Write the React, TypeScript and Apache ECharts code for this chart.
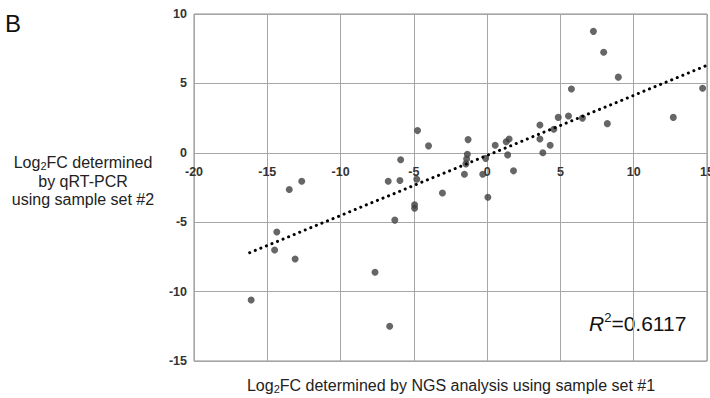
import React, { useEffect, useRef } from "react";
import * as echarts from "echarts";

const ngsLog2FC = [
  -16.1, -14.5, -14.35, -13.1, -13.5, -12.65, -7.65, -6.65, -6.3, -6.75, -5.95, -5.9,
  -4.8, -4.75, -4.95, -4.95, -4.0, -3.05, -1.3, -1.35, -1.4, -1.45, -1.55, -0.1,
  -0.3, 0.05, 0.55, 1.3, 1.5, 1.4, 1.8, 3.6, 3.6, 3.8, 4.3, 4.55, 4.85, 5.55,
  6.5, 5.75, 7.25, 7.95, 8.95, 8.2, 12.7, 14.7,
];
const qpcrLog2FC = [
  -10.6, -7.0, -5.7, -7.65, -2.65, -2.05, -8.6, -12.5, -4.85, -2.05, -2.0, -0.5,
  -1.9, 1.6, -3.75, -4.0, 0.5, -2.9, 0.95, -0.1, -0.45, -0.8, -1.55, -0.4,
  -1.55, -3.2, 0.55, 0.8, 1.0, -0.15, -1.3, 2.0, 1.0, 0.0, 0.55, 1.7, 2.55, 2.65,
  2.5, 4.6, 8.75, 7.25, 5.45, 2.1, 2.55, 4.65,
];
const trendX = [-16.2, 15];
const trendY = [-7.2, 6.3];
const xTicks = { min: -20, max: 15, interval: 5 };
const yTicks = { min: -15, max: 10, interval: 5 };
const r2Label = "0.6117";

const GRID = { left: 194, right: 3, top: 14, bottom: 37 };
const H = 398;

export default function App() {
  const ref = useRef<HTMLDivElement>(null);
  useEffect(() => {
    if (!ref.current) return;
    const chart = echarts.init(ref.current, null, { renderer: "svg" });
    const font = "'Liberation Sans', Arial, sans-serif";
    const gridColor = "#a6a6a6";
    const labelStyle = {
      fontFamily: font,
      fontWeight: "bold" as const,
      fontSize: 12.5,
      color: "#333333",
    };
    const plotH = H - GRID.top - GRID.bottom;
    const zeroOffset =
      -(plotH * (0 - yTicks.min)) / (yTicks.max - yTicks.min);
    chart.setOption({
      animation: false,
      backgroundColor: "#ffffff",
      grid: {
        ...GRID,
        show: true,
        borderColor: "#8c8c8c",
        borderWidth: 1,
        outerBoundsMode: "none",
        containLabel: false,
      },
      xAxis: {
        type: "value",
        min: xTicks.min,
        max: xTicks.max,
        interval: xTicks.interval,
        position: "bottom",
        offset: zeroOffset,
        axisLine: { onZero: false, lineStyle: { color: gridColor, width: 1 } },
        axisTick: { show: false },
        axisLabel: { ...labelStyle, margin: 13 },
        splitLine: { show: true, lineStyle: { color: gridColor, width: 1 } },
      },
      yAxis: {
        type: "value",
        min: yTicks.min,
        max: yTicks.max,
        interval: yTicks.interval,
        axisLine: { onZero: true, lineStyle: { color: gridColor, width: 1 } },
        axisTick: { show: false },
        axisLabel: { ...labelStyle, margin: 7 },
        splitLine: { show: true, lineStyle: { color: gridColor, width: 1 } },
      },
      series: [
        {
          type: "line",
          data: trendX.map((x, i) => [x, trendY[i]]),
          symbol: "none",
          lineStyle: { color: "#000", width: 3, type: [0.1, 5.9], cap: "round" },
          z: 3,
        },
        {
          type: "scatter",
          data: ngsLog2FC.map((x, i) => [x, qpcrLog2FC[i]]),
          symbol: "circle",
          symbolSize: 7,
          itemStyle: { color: "#404040" },
          z: 2,
        },
      ],
      graphic: [
        {
          type: "text",
          left: 5,
          top: 11,
          style: { text: "B", fontSize: 24, fontFamily: font, fill: "#111" },
        },
        {
          type: "text",
          x: 83,
          y: 181,
          style: {
            text:
              "{a|Log}{s|2}{a|FC determined}\n{a|by qRT-PCR}\n{a|using sample set #2}",
            align: "center",
            verticalAlign: "middle",
            fill: "#222",
            fontFamily: font,
            rich: {
              a: { fontSize: 16, lineHeight: 18.5, fontFamily: font, fill: "#222" },
              s: {
                fontSize: 11,
                lineHeight: 11,
                verticalAlign: "bottom",
                fontFamily: font,
                fill: "#222",
              },
            },
          },
        },
        {
          type: "text",
          x: 451,
          y: 385,
          style: {
            text:
              "{a|Log}{s|2}{a|FC determined by NGS analysis using sample set #1}",
            align: "center",
            verticalAlign: "middle",
            fill: "#222",
            fontFamily: font,
            rich: {
              a: { fontSize: 16, lineHeight: 18.5, fontFamily: font, fill: "#222" },
              s: {
                fontSize: 11,
                lineHeight: 11,
                verticalAlign: "bottom",
                fontFamily: font,
                fill: "#222",
              },
            },
          },
        },
        {
          type: "text",
          x: 589,
          y: 323,
          style: {
            text: "{i|R}{p|2}{a|=" + r2Label + "}",
            align: "left",
            verticalAlign: "middle",
            fill: "#111",
            fontFamily: font,
            rich: {
              i: { fontSize: 21, lineHeight: 24, fontStyle: "italic", fontFamily: font, fill: "#111" },
              p: {
                fontSize: 13,
                lineHeight: 13,
                verticalAlign: "top",
                fontFamily: font,
                fill: "#111",
              },
              a: { fontSize: 21, lineHeight: 24, fontFamily: font, fill: "#111" },
            },
          },
        },
      ],
    });
    return () => chart.dispose();
  }, []);
  return (
    <div
      ref={ref}
      style={{ position: "absolute", left: 0, top: 0, width: 710, height: 398 }}
    />
  );
}
